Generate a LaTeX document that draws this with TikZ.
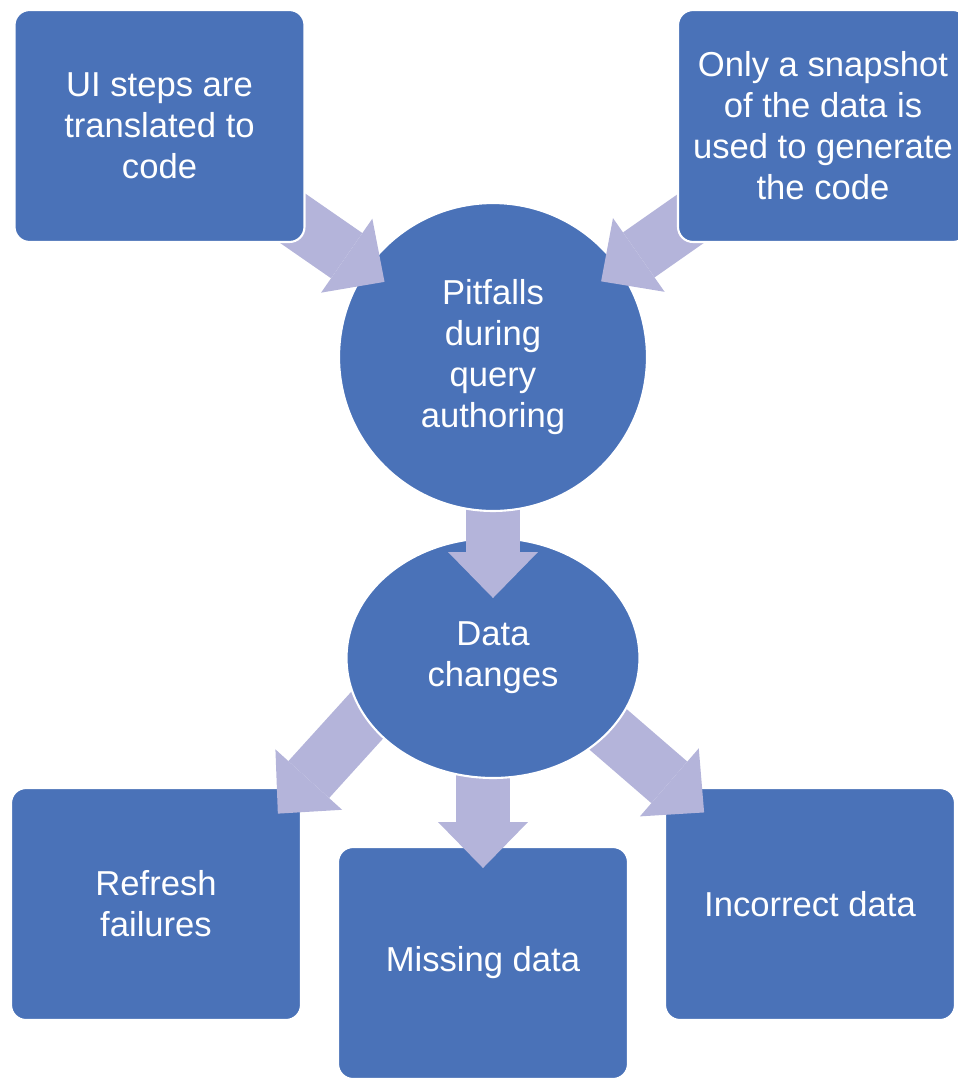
\documentclass[tikz,border=0pt]{standalone}
\usepackage{fontspec}
\setmainfont{Liberation Sans}
\usetikzlibrary{arrows.meta,shapes.geometric}
\definecolor{boxblue}{RGB}{74,114,184}
\definecolor{arrowlilac}{RGB}{180,180,218}
% drawing order: targets below arrows, sources above them
\pgfdeclarelayer{lowboxes}
\pgfdeclarelayer{lowarrows}
\pgfdeclarelayer{changes}
\pgfdeclarelayer{midarrow}
\pgfdeclarelayer{pitfalls}
\pgfdeclarelayer{toparrows}
\pgfsetlayers{lowboxes,lowarrows,changes,midarrow,pitfalls,toparrows,main}

\begin{document}
\begin{tikzpicture}[x=0.02cm,y=-0.02cm,
        txt/.style={text=white, align=center, inner sep=0pt, font=\fontsize{19.7}{23.3}\selectfont},
        box/.style={txt, rounded corners=0.3cm, draw=white, line width=1.2pt, fill=boxblue,
          minimum width=5.8cm, minimum height=4.64cm},
        blob/.style={txt, draw=white, line width=1.2pt, fill=boxblue},
        fat/.style={draw=arrowlilac, line width=1.1cm,
          -{Triangle[length=0.92cm, width=1.8cm, line width=0pt]}}]
  \useasboundingbox (0,0) rectangle (958,1080);

  % top boxes
  \node[box] (steps) at (159.5,126) {UI steps are\\translated to\\code};
  \node[box] (snap) at (823,126) {Only a snapshot\\of the data is\\used to generate\\the code};

  \begin{pgfonlayer}{pitfalls}
    \node[blob, circle, minimum size=6.16cm] (pit) at (493,357) {Pitfalls\\during\\query\\authoring};
  \end{pgfonlayer}
  \begin{pgfonlayer}{changes}
    \node[blob, ellipse, minimum width=5.86cm, minimum height=4.8cm] (chg) at (493,658) {Data\\changes};
  \end{pgfonlayer}

  % bottom boxes
  \begin{pgfonlayer}{lowboxes}
    \node[box] (refresh) at (156,904) {Refresh\\failures};
    \node[box] (missing) at (483,963) {Missing data};
    \node[box] (wrong) at (810,904) {Incorrect data};
  \end{pgfonlayer}

  % block arrows
  \begin{pgfonlayer}{toparrows}
    \draw[fat, shorten >=2.64cm] (steps.center) -- (pit.center);
    \draw[fat, shorten >=2.64cm] (snap.center) -- (pit.center);
  \end{pgfonlayer}
  \begin{pgfonlayer}{midarrow}
    \draw[fat, shorten >=1.2cm] (pit.center) -- (chg.center);
  \end{pgfonlayer}
  \begin{pgfonlayer}{lowarrows}
    \draw[fat, shorten <=-0.6cm, shorten >=-0.72cm] (chg.205) -- (refresh.north east);
    \draw[fat, shorten >=1.9cm] (missing |- chg) -- (missing.center);
    \draw[fat, shorten <=-0.6cm, shorten >=2.8cm] (chg.328) -- (wrong.center);
  \end{pgfonlayer}
\end{tikzpicture}
\end{document}
